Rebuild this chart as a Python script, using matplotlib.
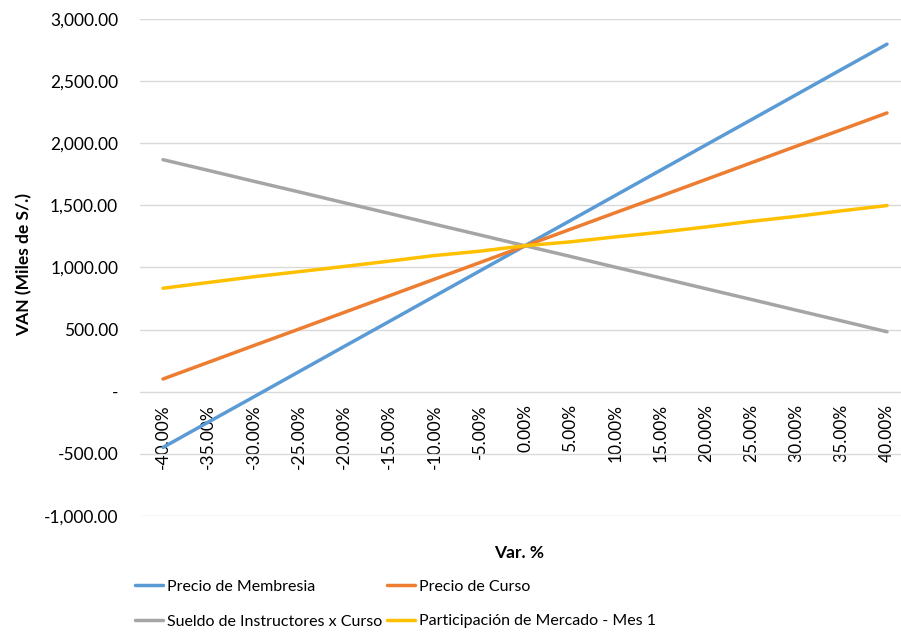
import matplotlib
matplotlib.use("Agg")
import matplotlib.pyplot as plt
from matplotlib.ticker import FuncFormatter

# Sensitivity data (VAN, miles de S/.)
var_pct = [-40, -35, -30, -25, -20, -15, -10, -5, 0, 5, 10, 15, 20, 25, 30, 35, 40]
precio_membresia = [-448, -245, -43, 160, 363, 565, 768, 971, 1174, 1376, 1579, 1782, 1985, 2187, 2390, 2593, 2795]
precio_curso = [102, 236, 370, 503, 637, 771, 905, 1038, 1172, 1306, 1440, 1573, 1707, 1841, 1975, 2108, 2242]
sueldo_instructores = [1866, 1780, 1693, 1607, 1520, 1434, 1347, 1261, 1174, 1088, 1001, 915, 828, 742, 655, 569, 482]
participacion_mercado = [832, 878, 924, 965, 1007, 1050, 1095, 1130, 1174, 1205, 1245, 1283, 1325, 1370, 1410, 1455, 1497]

series = [
    ("Precio de Membresia", precio_membresia, "#5B9BD5"),
    ("Precio de Curso", precio_curso, "#ED7D31"),
    ("Sueldo de Instructores x Curso", sueldo_instructores, "#A5A5A5"),
    ("Participación de Mercado - Mes 1", participacion_mercado, "#FFC000"),
]

plt.rcParams["font.family"] = ["Lato", "DejaVu Sans"]

fig = plt.figure(figsize=(9.01, 6.32), dpi=100)
ax = fig.add_axes([140.4 / 901, 1 - 516 / 632, 769.2 / 901, (516 - 18.7) / 632])

x = list(range(len(var_pct)))
lines = []
for name, vals, col in series:
    ln, = ax.plot(x, vals, color=col, lw=2.5, label=name, solid_capstyle="round")
    lines.append(ln)

ax.set_xlim(-0.5, len(var_pct) - 0.5)
ax.set_ylim(-1000, 3000)
ax.set_yticks(range(-1000, 3001, 500))


def fmt(v, pos):
    if v == 0:
        return "-"
    return f"{v:,.2f}"


ax.yaxis.set_major_formatter(FuncFormatter(fmt))
ax.grid(axis="y", color="#d9d9d9", lw=1)
ax.set_axisbelow(True)

for s in ["top", "right", "left"]:
    ax.spines[s].set_visible(False)
ax.spines["bottom"].set_position(("data", 0))
ax.spines["bottom"].set_color("none")

ax.set_xticks(x)
ax.set_xticklabels([f"{v:.2f}%" for v in var_pct], rotation=90, va="top", ha="center")
ax.tick_params(axis="x", length=0, pad=9, labelsize=12.5)
ax.tick_params(axis="y", length=0, pad=16, labelsize=12.5)

fig.text(519 / 901, 1 - 553 / 632, "Var. %", ha="center", va="center", fontsize=12.5, fontweight="bold")
fig.text(24 / 901, 1 - 265 / 632, "VAN (Miles de S/.)", ha="center", va="center", rotation=90,
         fontsize=12.5, fontweight="bold")

# legend fills column-wise: put blue/gray in the first column
order = [0, 2, 1, 3]
fig.legend([lines[i] for i in order], [series[i][0] for i in order],
           loc="upper left", bbox_to_anchor=(121 / 901, 1 - 565 / 632), ncol=2, frameon=False,
           fontsize=11.5, handlelength=1.75, handletextpad=0.2, columnspacing=0.35, labelspacing=1.3)

fig.savefig("out.png", dpi=100)
